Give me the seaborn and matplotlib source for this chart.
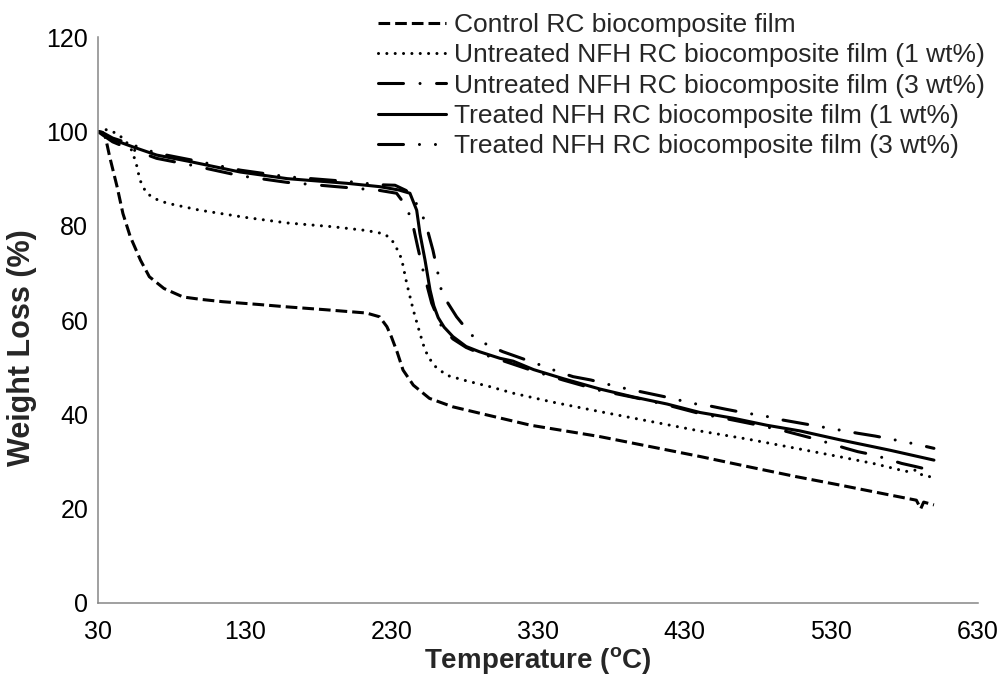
import numpy as np
import pandas as pd
import matplotlib
matplotlib.use("Agg")
import matplotlib.pyplot as plt
import seaborn as sns

# ---------------- data ----------------
control_x = [30, 33, 35, 38, 43, 47, 52, 59, 65, 75, 88, 100, 115, 140, 159, 185, 213, 222, 227, 230, 234, 238, 245, 256, 272, 295, 325, 372, 440, 475, 506, 536, 570, 588, 591, 593, 600]
control_y = [100, 99.8, 98.9, 94.6, 88.3, 82.6, 77.7, 72.7, 69.2, 66.7, 64.9, 64.4, 63.9, 63.3, 62.8, 62.2, 61.5, 60.7, 58.6, 56.5, 53.2, 49.4, 46.2, 43.4, 41.6, 39.9, 37.7, 35.3, 31.1, 28.8, 26.8, 25.0, 22.9, 21.8, 20.0, 21.4, 20.8]

untr1_x = [30, 36, 41, 46, 50, 53, 56, 58.6, 63, 70, 77, 99.5, 130, 159, 190, 213, 225, 230, 234, 237, 240.5, 245, 249.5, 253, 258.6, 267.7, 281.4, 297, 313, 340, 372, 440, 474, 506, 536, 560, 581, 588, 592, 597, 600]
untr1_y = [100, 100.4, 99.8, 98.8, 97.5, 96, 93.3, 89.7, 86.9, 85.6, 84.8, 83.3, 81.8, 80.6, 79.8, 79, 78.3, 77.2, 75, 73, 67.8, 62.1, 57.2, 53.6, 50.5, 48.3, 47.1, 45.9, 44.5, 42.6, 40.6, 36.5, 34.7, 32.8, 31.0, 29.5, 27.9, 28.2, 27.1, 26.8, 27.8]

untr3_x = [30, 33, 40, 47, 55, 70, 93, 127, 159, 200, 222, 233.6, 240.5, 245, 248, 251.6, 257.5, 264.3, 272, 281, 290, 304, 327, 347, 372, 400, 418, 440, 463, 479, 498, 520, 540, 548, 559, 578, 588, 600]
untr3_y = [100, 99.3, 97.8, 96.9, 96, 94.3, 92.9, 90.6, 89.2, 88.1, 87.5, 86.9, 84, 79.8, 75.5, 70.6, 63.6, 58.6, 56, 54.2, 53, 51.6, 49.2, 47.3, 45.1, 43.3, 42, 40.2, 38.8, 37.8, 36.5, 34.7, 32.8, 32.1, 31.4, 29.6, 28.9, 28]

tr1_x = [30, 33, 40, 47, 55, 70, 93, 127, 159, 200, 222, 235, 242.7, 247.3, 249.5, 253, 256.4, 259, 262, 266, 272, 281, 290, 304, 313, 327, 347, 372, 395, 418, 440.5, 463, 486, 508.6, 536, 570, 600]
tr1_y = [100, 99.5, 98.3, 97.5, 96.6, 95, 93.6, 91.4, 90, 89, 88.3, 87.6, 86.9, 83.3, 78.4, 72.7, 66.4, 63, 60.5, 58.5, 56.5, 54.4, 53.3, 51.9, 51.3, 49.5, 47.6, 45.4, 43.7, 42.2, 40.4, 39.2, 37.7, 36.5, 34.6, 32.4, 30.3]

tr3_x = [30, 33, 40, 47, 55, 70, 93, 127, 159, 200, 222, 232.5, 240, 244.8, 251.6, 255, 258.4, 261.8, 264.3, 268.6, 274.5, 281, 287, 296, 306, 316, 335, 344, 354, 366, 385, 417, 436, 447, 458, 468, 487, 497, 548, 560, 570, 589, 600]
tr3_y = [100, 99.8, 98.6, 97.9, 97, 95.4, 94, 91.8, 90.4, 89.4, 88.7, 88.6, 87.5, 86.1, 81.9, 78.7, 74.8, 69.9, 66, 63.6, 60.7, 58.2, 56.1, 54.7, 53.3, 52.2, 50.1, 49, 48, 47.3, 45.8, 43.7, 42.3, 41.8, 41.1, 40.5, 39.5, 38.8, 36, 35.4, 34.8, 33.6, 32.8]

labels = ["Control RC biocomposite film",
          "Untreated NFH RC biocomposite film (1 wt%)",
          "Untreated NFH RC biocomposite film (3 wt%)",
          "Treated NFH RC biocomposite film (1 wt%)",
          "Treated NFH RC biocomposite film (3 wt%)"]

x_ticks = [30, 130, 230, 330, 430, 530, 630]
y_ticks = [0, 20, 40, 60, 80, 100, 120]

# ---------------- style ----------------
sns.set_style("white")
plt.rcParams['font.family'] = ['Liberation Sans', 'DejaVu Sans']
plt.rcParams['lines.scale_dashes'] = False

fig = plt.figure(figsize=(10.02, 6.76), dpi=100)
ax = fig.add_axes([0.0978, 0.108, 0.8782, 0.837])

lw = 2.2
styles = [
    dict(linestyle=(0, (8.4, 3.6)), dash_capstyle='butt'),
    dict(linestyle=(0, (0.01, 6.0)), dash_capstyle='round'),
    dict(linestyle=(0, (18, 11.9, 0.01, 11.9)), dash_capstyle='round'),
    dict(linestyle='-', solid_capstyle='round'),
    dict(linestyle=(0, (18, 11.5, 0.01, 11.5, 0.01, 11.5)), dash_capstyle='round'),
]
series = [(control_x, control_y), (untr1_x, untr1_y), (untr3_x, untr3_y),
          (tr1_x, tr1_y), (tr3_x, tr3_y)]

for (xs, ys), lab, st in zip(series, labels, styles):
    df = pd.DataFrame({"Temperature": xs, "Weight": ys})
    sns.lineplot(data=df, x="Temperature", y="Weight", ax=ax, color="black",
                 lw=lw, label=lab, estimator=None, sort=False, **st)

ax.set_xlim(30, 630)
ax.set_ylim(0, 120)
ax.set_xticks(x_ticks)
ax.set_yticks(y_ticks)
for s in ['top', 'right']:
    ax.spines[s].set_visible(False)
for s in ['left', 'bottom']:
    ax.spines[s].set_color('#868686')
    ax.spines[s].set_linewidth(1.1)
ax.tick_params(axis='both', direction='out', length=5, width=1.1, color='#868686',
               labelsize=18, labelcolor='black')
ax.tick_params(axis='y', pad=2)
ax.tick_params(axis='x', pad=7)
ax.set_xlabel("Temperature ($\\mathregular{^{o}}$C)", fontsize=20, fontweight='bold', va='center')
ax.xaxis.set_label_coords(0.5, -0.1025)
ax.set_ylabel("Weight Loss (%)", fontsize=22, fontweight='bold', va='center')
ax.yaxis.set_label_coords(-0.0865, 0.452)

leg = ax.legend(loc='upper left', bbox_to_anchor=(0.377, 0.981), bbox_transform=fig.transFigure,
                frameon=False, fontsize=19, handlelength=2.58, handletextpad=0.3,
                labelspacing=0.24, borderpad=0, borderaxespad=0)

fig.savefig("out.png", dpi=100)
